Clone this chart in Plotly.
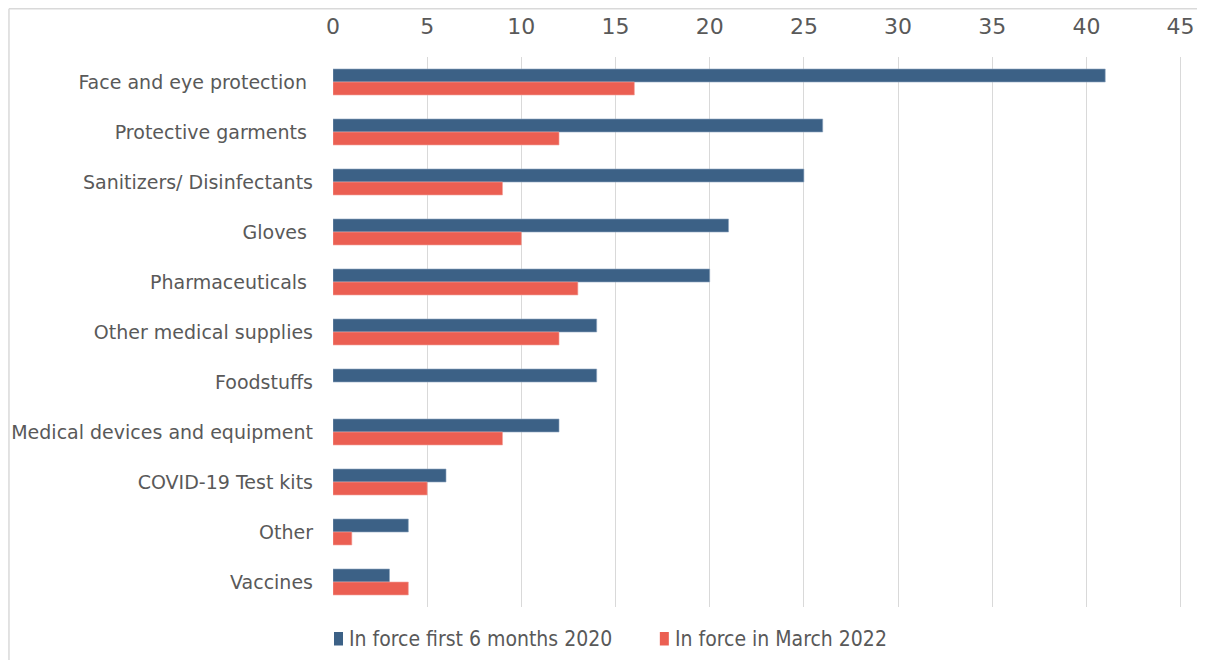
import plotly.graph_objects as go

categories = ["Face and eye protection ", "Protective garments ", "Sanitizers/ Disinfectants",
              "Gloves ", "Pharmaceuticals ", "Other medical supplies", "Foodstuffs",
              "Medical devices and equipment", "COVID-19 Test kits", "Other", "Vaccines"]
first_2020 = [41, 26, 25, 21, 20, 14, 14, 12, 6, 4, 3]
march_2022 = [16, 12, 9, 10, 13, 12, 0, 9, 5, 1, 4]
series_names = ["In force first 6 months 2020", "In force in March 2022"]
series_colors = ["#3C6186", "#EB5F52"]
edge_colors = ["#8fa6bf", "#f4a59e"]
tick_vals = [0, 5, 10, 15, 20, 25, 30, 35, 40, 45]

OFF = 8  # default page body margin
W, H = 1205 - OFF, 660 - OFF
X_MAX = 45.5
# value 0 at page x 333, value 45 at page x 1181; plot area y 57..607
scale = (1181 - 333) / 45.0
right_px = 333 + X_MAX * scale
L, R = 333 - OFF, 1205 - right_px
T, B = 57 - OFF, 660 - 607
pw, ph = W - L - R, H - T - B


def px_x(p):
    return (p - OFF - L) / pw


def px_y(p):
    return (H - B - (p - OFF)) / ph


fig = go.Figure()
for vals, name, col, edge in zip([first_2020, march_2022], series_names, series_colors, edge_colors):
    fig.add_trace(go.Bar(y=categories, x=vals, name=name, orientation="h",
                         marker=dict(color=col,
                                     line=dict(color=edge, width=[0.6 if v else 0 for v in vals]))))

font = "DejaVu Sans, Verdana, sans-serif"
legfont = "DejaVu Sans Condensed, DejaVu Sans, sans-serif"

shapes = [
    dict(type="line", xref="paper", yref="paper",
         x0=px_x(8.8), x1=px_x(1230), y0=px_y(8.8), y1=px_y(8.8),
         line=dict(color="#d9d9d9", width=1.5)),
    dict(type="line", xref="paper", yref="paper",
         x0=px_x(8.8), x1=px_x(8.8), y0=px_y(8.8), y1=px_y(700),
         line=dict(color="#d9d9d9", width=1.5)),
]
annotations = []
leg_square_x = [334, 660]
for i, name in enumerate(series_names):
    x0 = leg_square_x[i]
    shapes.append(dict(type="rect", xref="paper", yref="paper",
                       x0=px_x(x0), x1=px_x(x0 + 9), y0=px_y(632), y1=px_y(645.5),
                       fillcolor=series_colors[i], line=dict(width=0)))
    annotations.append(dict(xref="paper", yref="paper", x=px_x(x0 + 13), y=px_y(639),
                            xanchor="left", yanchor="middle", showarrow=False, text=name,
                            font=dict(family=legfont, size=21, color="#595959")))

fig.update_layout(
    width=W, height=H,
    margin=dict(l=L, r=R, t=T, b=B),
    paper_bgcolor="white", plot_bgcolor="white",
    barmode="group", bargap=0.48, bargroupgap=0,
    font=dict(family=font, color="#595959", size=19),
    showlegend=False,
    xaxis=dict(side="top", range=[0, X_MAX], tickvals=tick_vals, showgrid=True,
               gridcolor="#d9d9d9", gridwidth=1, zeroline=False, showline=False,
               ticks="", tickfont=dict(size=22, color="#595959"), ticklabelstandoff=18,
               automargin=False, fixedrange=True),
    yaxis=dict(autorange="reversed", showgrid=False, ticks="", showline=False,
               tickfont=dict(size=19, color="#595959"), ticklabelstandoff=19,
               automargin=False),
    shapes=shapes,
    annotations=annotations,
)

fig.write_html("out.html")
